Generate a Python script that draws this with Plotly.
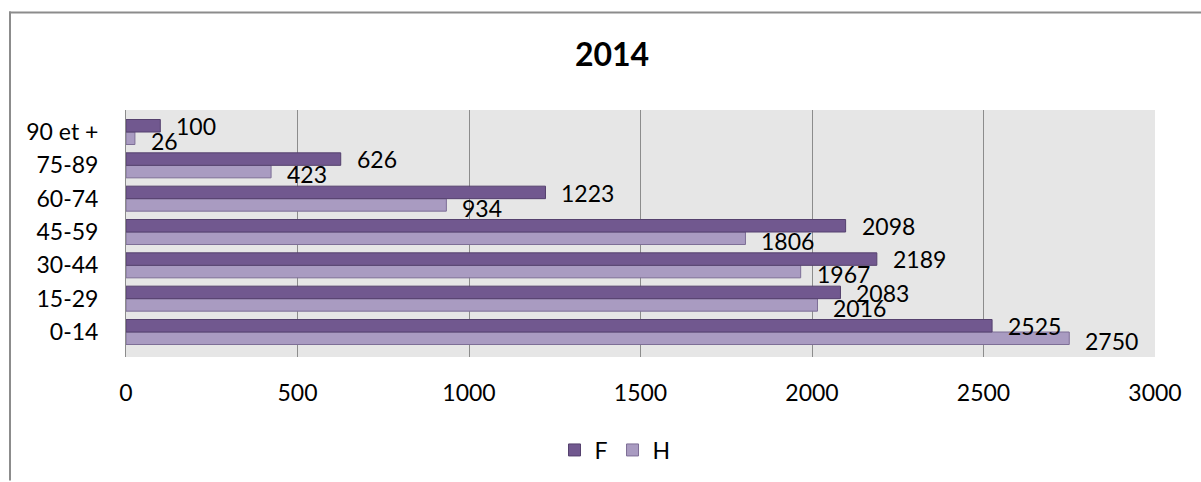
import plotly.graph_objects as go

categories = ["0-14", "15-29", "30-44", "45-59", "60-74", "75-89", "90 et +"]
f_values = [2525, 2083, 2189, 2098, 1223, 626, 100]
h_values = [2750, 2016, 1967, 1806, 934, 423, 26]
x_ticks = [0, 500, 1000, 1500, 2000, 2500, 3000]
title_text = "2014"

FONT = "Lato, Carlito, 'Open Sans', sans-serif"
W, H = 1201, 482
L, R, T, B = 126, 1155, 110, 358

fig = go.Figure()
fig.add_trace(go.Bar(
    name="H", y=categories, x=h_values, orientation="h",
    marker=dict(color="#A99BC1", line=dict(color="#7D6E96", width=1)),
    hoverinfo="x+y",
))
fig.add_trace(go.Bar(
    name="F", y=categories, x=f_values, orientation="h",
    marker=dict(color="#71588F", line=dict(color="#55416E", width=1)),
    hoverinfo="x+y",
))

annotations = []
for c, v in zip(categories, f_values):
    annotations.append(dict(x=v, y=c, xref="x", yref="y", text=str(v), showarrow=False,
                            xanchor="left", yanchor="middle", xshift=14, yshift=6,
                            font=dict(family=FONT, size=23, color="#000")))
for c, v in zip(categories, h_values):
    annotations.append(dict(x=v, y=c, xref="x", yref="y", text=str(v), showarrow=False,
                            xanchor="left", yanchor="middle", xshift=14, yshift=-9,
                            font=dict(family=FONT, size=23, color="#000")))

pw, ph = R - L, B - T
def px_x(p):
    return (p - L) / pw
def px_y(p):
    return (B - p) / ph

shapes = [
    dict(type="line", xref="paper", yref="paper", x0=px_x(10), x1=px_x(10), y0=px_y(11), y1=px_y(482),
         line=dict(color="#8C8C8C", width=2)),
    dict(type="line", xref="paper", yref="paper", x0=px_x(9), x1=px_x(1201), y0=px_y(12), y1=px_y(12),
         line=dict(color="#8C8C8C", width=2)),
]

fig.update_layout(
    width=W, height=H,
    margin=dict(l=L, r=W - R, t=T, b=H - B, pad=0),
    paper_bgcolor="white",
    plot_bgcolor="#E6E6E6",
    barmode="group",
    bargap=0.25,
    bargroupgap=0,
    font=dict(family=FONT, size=23, color="#000"),
    title=dict(text=title_text, x=px_x(612), xref="paper", xanchor="center",
               y=1 - 55 / H, yref="container", yanchor="middle",
               font=dict(family=FONT, size=32, color="#000", weight="bold")),
    xaxis=dict(range=[0, 3000], tickvals=x_ticks, ticktext=[str(t) for t in x_ticks],
               showgrid=True, gridcolor="#8C8C8C", gridwidth=1, zeroline=False,
               showline=False, ticks="", ticklabelstandoff=20,
               tickfont=dict(family=FONT, size=23, color="#000"), fixedrange=True),
    yaxis=dict(showgrid=False, zeroline=False, showline=True, linecolor="#8C8C8C", linewidth=1,
               ticks="", ticklabelstandoff=22,
               tickfont=dict(family=FONT, size=23, color="#000"), fixedrange=True),
    legend=dict(orientation="h", x=px_x(615), y=px_y(450), xanchor="center", yanchor="middle",
                traceorder="reversed", font=dict(family=FONT, size=23, color="#000"),
                bgcolor="rgba(0,0,0,0)"),
    annotations=annotations,
    shapes=shapes,
    showlegend=True,
)

fig.write_html("out.html", config={"displayModeBar": False})

# remove default page margins so the figure sits at the window origin
with open("out.html", "r", encoding="utf-8") as fh:
    html = fh.read()
html = html.replace("<body>", '<body style="margin:0;overflow:hidden;">', 1)
with open("out.html", "w", encoding="utf-8") as fh:
    fh.write(html)
